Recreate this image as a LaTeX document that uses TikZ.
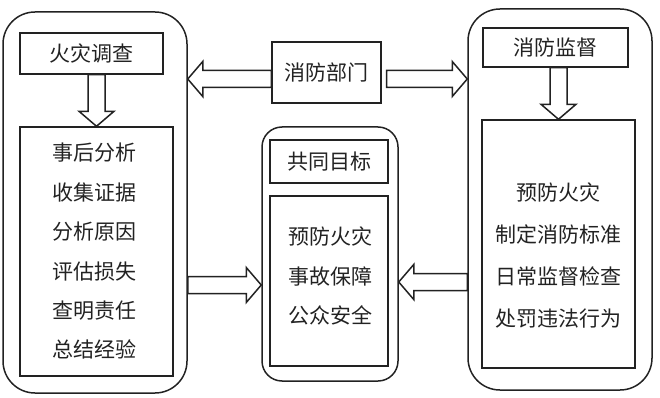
\documentclass[tikz,border=0pt]{standalone}
\usepackage{fontspec}
\setmainfont{Noto Sans CJK SC}
\usetikzlibrary{calc}
\definecolor{ink}{HTML}{222222}
\newcommand{\blockarrow}[2]{%
  \draw[hollow] let \p1=(#1), \p2=(#2),
    \n1={veclen(\x2-\x1,\y2-\y1)}, \n2={atan2(\y2-\y1,\x2-\x1)} in
    [shift={(\p1)},rotate=\n2]
    (0,8.5) -- ({\n1-15pt},8.5) -- ({\n1-15pt},17.5) -- (\n1,0)
    -- ({\n1-15pt},-17.5) -- ({\n1-15pt},-8.5) -- (0,-8.5) -- cycle;}

\begin{document}
\begin{tikzpicture}[x=1pt,y=-1pt,font=\fontsize{21}{25}\selectfont,text=ink,
  group/.style={draw=ink,line width=1.5pt,rounded corners=32pt,inner sep=0pt},
  box/.style={draw=ink,line width=1.4pt,inner sep=0pt},
  lines/.style={align=center,inner sep=0pt},
  hollow/.style={draw=ink,line width=1.5pt,fill=white,line join=miter}]
  \useasboundingbox (0,0) rectangle (660,398);
  \node[group,minimum width=184pt,minimum height=381pt] (inv) at (95,202.5) {};
  \node[box,minimum width=143pt,minimum height=41pt] (invhead) at (91.5,53.5) {火灾调查};
  \node[box,minimum width=153pt,minimum height=249pt] (invbody) at (96.5,251.5) {};
  \node[lines,font=\fontsize{21}{39.4}\selectfont] (invtext) at (94,251.5)
    {事后分析\\收集证据\\分析原因\\评估损失\\查明责任\\总结经验};
  \node[box,minimum width=109pt,minimum height=61pt] (dept) at (326.5,72.5) {消防部门};
  \node[group,rounded corners=20pt,minimum width=136pt,minimum height=254pt] (goal) at (330,254) {};
  \node[box,minimum width=118pt,minimum height=43pt] (goalhead) at (329,161.5) {共同目标};
  \node[box,minimum width=118pt,minimum height=170pt] (goalbody) at (329,281) {};
  \node[lines,font=\fontsize{21}{39.5}\selectfont] (goaltext) at (330.5,276)
    {预防火灾\\事故保障\\公众安全};
  \node[group,minimum width=184pt,minimum height=381pt] (sup) at (560,199.5) {};
  \node[box,minimum width=145pt,minimum height=39pt] (suphead) at (555.5,47.5) {消防监督};
  \node[box,minimum width=153pt,minimum height=248pt] (supbody) at (558.5,244) {};
  \node[lines,font=\fontsize{21}{42}\selectfont] (suptext) at (558.5,255)
    {预防火灾\\制定消防标准\\日常监督检查\\处罚违法行为};
  \blockarrow{invbody.north |- invhead.south}{invbody.north}
  \blockarrow{supbody.north |- suphead.south}{supbody.north}
  \blockarrow{$(dept.west)+(0,6.5)$}{inv.east |- {$(dept.west)+(0,6.5)$}}
  \blockarrow{$(dept.east)+(5,6.5)$}{sup.west |- {$(dept.east)+(0,6.5)$}}
  \blockarrow{inv.east |- {$(goal.west)+(0,31)$}}{$(goal.west)+(0,31)$}
  \blockarrow{sup.west |- {$(goal.east)+(0,28)$}}{$(goal.east)+(0,28)$}
\end{tikzpicture}
\end{document}
